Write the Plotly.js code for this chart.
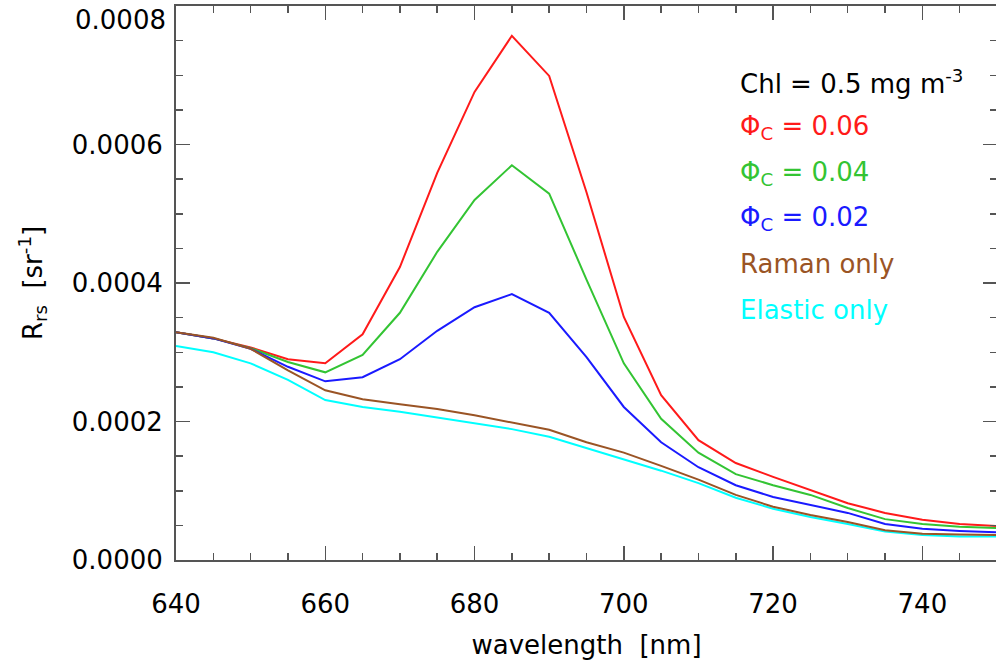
<!DOCTYPE html>
<html>
<head>
<meta charset="utf-8">
<script src="https://cdn.plot.ly/plotly-3.0.1.min.js"></script>
<style>
html,body{margin:0;padding:0;background:#fff;overflow:hidden;}
#chart{width:997px;height:670px;}
</style>
</head>
<body>
<div id="chart"></div>
<script>
// wavelength [nm]
const wavelength = [640,645,650,655,660,665,670,675,680,685,690,695,700,705,710,715,720,725,730,735,740,745,750];
// Rrs [sr^-1]
const phi006 = [0.000329,0.000320,0.000307,0.000290,0.000284,0.000326,0.000423,0.000559,0.000676,0.000757,0.000699,0.000531,0.000351,0.000238,0.000173,0.000140,0.000120,0.000101,0.000082,0.000068,0.000058,0.000052,0.000049];
const phi004 = [0.000329,0.000320,0.000306,0.000286,0.000271,0.000296,0.000357,0.000445,0.000520,0.000570,0.000529,0.000405,0.000284,0.000204,0.000155,0.000124,0.000108,0.000094,0.000075,0.000059,0.000052,0.000048,0.000046];
const phi002 = [0.000329,0.000320,0.000305,0.000279,0.000258,0.000264,0.000290,0.000331,0.000365,0.000384,0.000357,0.000293,0.000221,0.000170,0.000134,0.000108,0.000091,0.000079,0.000068,0.000052,0.000045,0.000042,0.000040];
const ramanOnly = [0.000329,0.000321,0.000305,0.000274,0.000245,0.000232,0.000225,0.000218,0.000209,0.000199,0.000188,0.000170,0.000155,0.000136,0.000116,0.000094,0.000077,0.000065,0.000055,0.000043,0.000038,0.000037,0.000036];
const elasticOnly = [0.000309,0.000300,0.000284,0.000260,0.000231,0.000221,0.000214,0.000206,0.000198,0.000189,0.000178,0.000162,0.000146,0.000129,0.000111,0.000090,0.000074,0.000062,0.000052,0.000041,0.000036,0.000034,0.000034];

// y tick labels (the top one is placed just below the frame, as in the original)
const yTickVals = [0, 0.0002, 0.0004, 0.0006, 0.0008];
const yTickText = ['0.0000', '0.0002', '0.0004', '0.0006', '0.0008'];

const legendLabels = ['Chl = 0.5 mg m<sup>-3</sup>','Φ<sub>C</sub> = 0.06','Φ<sub>C</sub> = 0.04','Φ<sub>C</sub> = 0.02','Raman only','Elastic only'];
const C = {red:'#ff1a1a', green:'#33c433', blue:'#1a1aff', brown:'#9a5425', cyan:'#00ffff', black:'#000000'};

const FONT = 'DejaVu Sans, Liberation Sans, Arial, sans-serif';
const FS = 26;

function tr(y, color, name){
  return {x: wavelength, y: y, type:'scatter', mode:'lines', name:name,
          line:{color:color, width:2}, hoverinfo:'skip'};
}
const data = [
  tr(phi006, C.red, 'Φc=0.06'),
  tr(phi004, C.green, 'Φc=0.04'),
  tr(phi002, C.blue, 'Φc=0.02'),
  tr(elasticOnly, C.cyan, 'Elastic only'),
  tr(ramanOnly, C.brown, 'Raman only')
];

const legColors = [C.black, C.red, C.green, C.blue, C.brown, C.cyan];
const legY = [0.862, 0.780, 0.698, 0.617, 0.534, 0.451];
const annotations = legendLabels.map((t,i)=>({
  text:t, xref:'paper', yref:'paper', x:0.685, y:legY[i], xanchor:'left', yanchor:'middle',
  showarrow:false, font:{family:FONT, size:FS, color:legColors[i]}
}));
// top y tick label, nudged inside the figure like the original
annotations.push({
  text: yTickText[4], xref:'paper', yref:'y', x:0, y:yTickVals[4], xanchor:'right', yanchor:'middle',
  xshift:-8, yshift:-14, showarrow:false, font:{family:FONT, size:FS, color:'#000'}
});

const axisCommon = {
  showline:true, linecolor:'#555', linewidth:2, mirror:'ticks',
  ticks:'inside', tickcolor:'#555', tickwidth:1.5, ticklen:14,
  showgrid:false, zeroline:false,
  tickfont:{family:FONT, size:FS, color:'#000'}
};

const layout = {
  width:997, height:670,
  margin:{l:176, r:0, t:6, b:110},
  paper_bgcolor:'#fff', plot_bgcolor:'#fff',
  showlegend:false,
  xaxis: Object.assign({}, axisCommon, {
    range:[640,750], tick0:640, dtick:20,
    minor:{dtick:5, ticks:'inside', ticklen:7, tickcolor:'#555', tickwidth:1.5},
    ticklabelstandoff:20,
    title:{text:'wavelength  [nm]', font:{family:FONT, size:FS, color:'#000'}, standoff:18}
  }),
  yaxis: Object.assign({}, axisCommon, {
    range:[0,0.0008],
    tickmode:'array', tickvals:yTickVals, ticktext:yTickText.slice(0,4).concat(['']),
    minor:{tickmode:'linear', tick0:0, dtick:0.00005, ticks:'inside', ticklen:7, tickcolor:'#555', tickwidth:1.5},
    ticklabelstandoff:6,
    title:{text:'R<sub>rs</sub>  [sr<sup>-1</sup>]', font:{family:FONT, size:FS, color:'#000'}, standoff:22}
  }),
  annotations: annotations
};

Plotly.newPlot('chart', data, layout, {displayModeBar:false, staticPlot:true});
</script>
</body>
</html>
